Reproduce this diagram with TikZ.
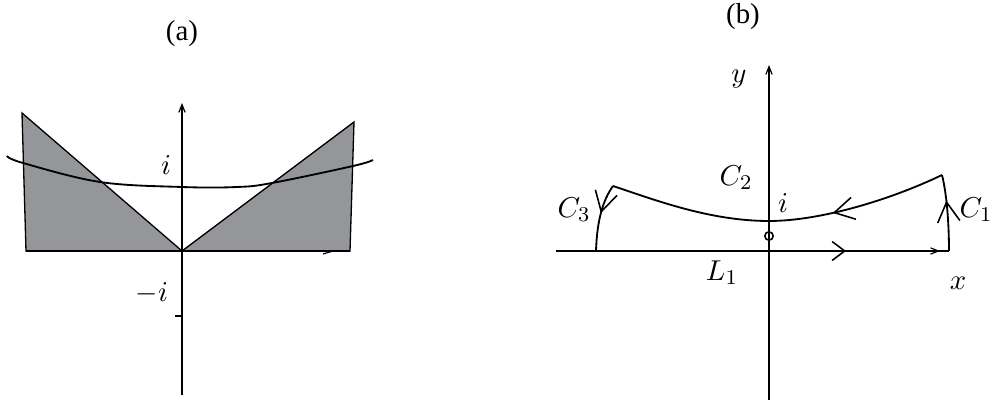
\documentclass[tikz,border=0pt]{standalone}
\usepackage{fontspec}
\setmainfont{Liberation Serif}
\usetikzlibrary{arrows.meta, decorations.markings}
\definecolor{shade}{RGB}{149,150,154}
\tikzset{
  axis/.style={draw=black, line width=0.45pt},
  curveC/.style={draw=black, line width=0.7pt},
  region/.style={fill=shade, draw=black, line width=0.5pt},
  lbl/.style={inner sep=0pt, font=\fontsize{11}{13}\selectfont},
  tip/.style={-{Straight Barb[length=3pt,width=2.4pt]}},
  midarrow/.style={postaction={decorate}, decoration={markings,
      mark=at position #1 with {\arrow{Straight Barb[length=7.5pt,width=8.5pt,line width=0.6pt]}}}},
  pole/.style={circle, draw=black, line width=0.6pt, inner sep=0pt, minimum size=3.2pt},
}
\begin{document}
\begin{tikzpicture}[x=0.0134cm, y=-0.0134cm]
  \useasboundingbox (0,0) rectangle (992,400);
  %% (a): shaded sectors
  \coordinate (aO) at (182,251);
  \coordinate (aTop) at (182,103);
  \coordinate (aBot) at (182,395);
  \coordinate (aL) at (26,251);
  \coordinate (aLT) at (22,113);
  \coordinate (aR) at (350,251);
  \coordinate (aRT) at (354,122);
  \coordinate (aMi) at (182,316);
  \coordinate (aMiL) at (175,316);
  \coordinate (tkA) at (323,254);
  \coordinate (tkB) at (333,251);
  \draw[region] (aLT) -- (aL) -- (aO) -- cycle;
  \draw[region] (aO) -- (aRT) -- (aR) -- cycle;
  \draw[axis] (aL) -- (aR);
  \draw[axis] (tkA) -- (tkB);
  \draw[axis, tip] (aBot) -- (aTop);
  \draw[axis] (aMiL) -- (aMi);
  \draw[curveC] plot[smooth, tension=0.6] coordinates {(7,156) (23,163) (100,182)
    (182,187) (237,187) (272,183) (353,166) (373,160)};
  \node[lbl] (titleA) at (182,34) {(a)};
  \node[lbl] (iA) at (166,165) {$i$};
  \node[lbl] (miA) at (152,293) {$-i$};
  %% (b): contour
  \coordinate (bTop) at (769,65);
  \coordinate (bBot) at (769,400);
  \coordinate (bL) at (556,251);
  \coordinate (bR) at (949,251);
  \coordinate (bRT) at (942,175);
  \coordinate (bMid) at (769,221);
  \coordinate (bLT) at (613,186);
  \coordinate (bLB) at (596,251);
  \draw[axis, tip] (bBot) -- (bTop);
  \draw[axis, postaction={decorate}, decoration={markings,
      mark=at position 0.738 with {\arrow{Straight Barb[length=4.8pt,width=7.2pt,line width=0.6pt]}},
      mark=at position 0.977 with {\arrow{Straight Barb[length=3pt,width=2.4pt]}}}]
    (bL) -- (bR);
  \draw[curveC, midarrow=0.66] (bR) .. controls (949,225) and (947,195) .. (bRT);
  \draw[curveC, midarrow=0.34] (bRT) .. controls (890,200) and (820,221) .. (bMid)
    .. controls (710,221) and (655,200) .. (bLT);
  \draw[curveC, midarrow=0.44] (bLT) .. controls (603,200) and (597,220) .. (bLB);
  \node[pole] (pl) at (769,236) {};
  \node[lbl] (titleB) at (743,17) {(b)};
  \node[lbl] (yB) at (739,79) {$y$};
  \node[lbl] (xB) at (958,283) {$x$};
  \node[lbl] (c1) at (976,210) {$C_1$};
  \node[lbl] (c2) at (736,178) {$C_2$};
  \node[lbl] (c3) at (574,210) {$C_3$};
  \node[lbl] (iB) at (783,203) {$i$};
  \node[lbl] (l1) at (722,273) {$L_1$};
\end{tikzpicture}
\end{document}
